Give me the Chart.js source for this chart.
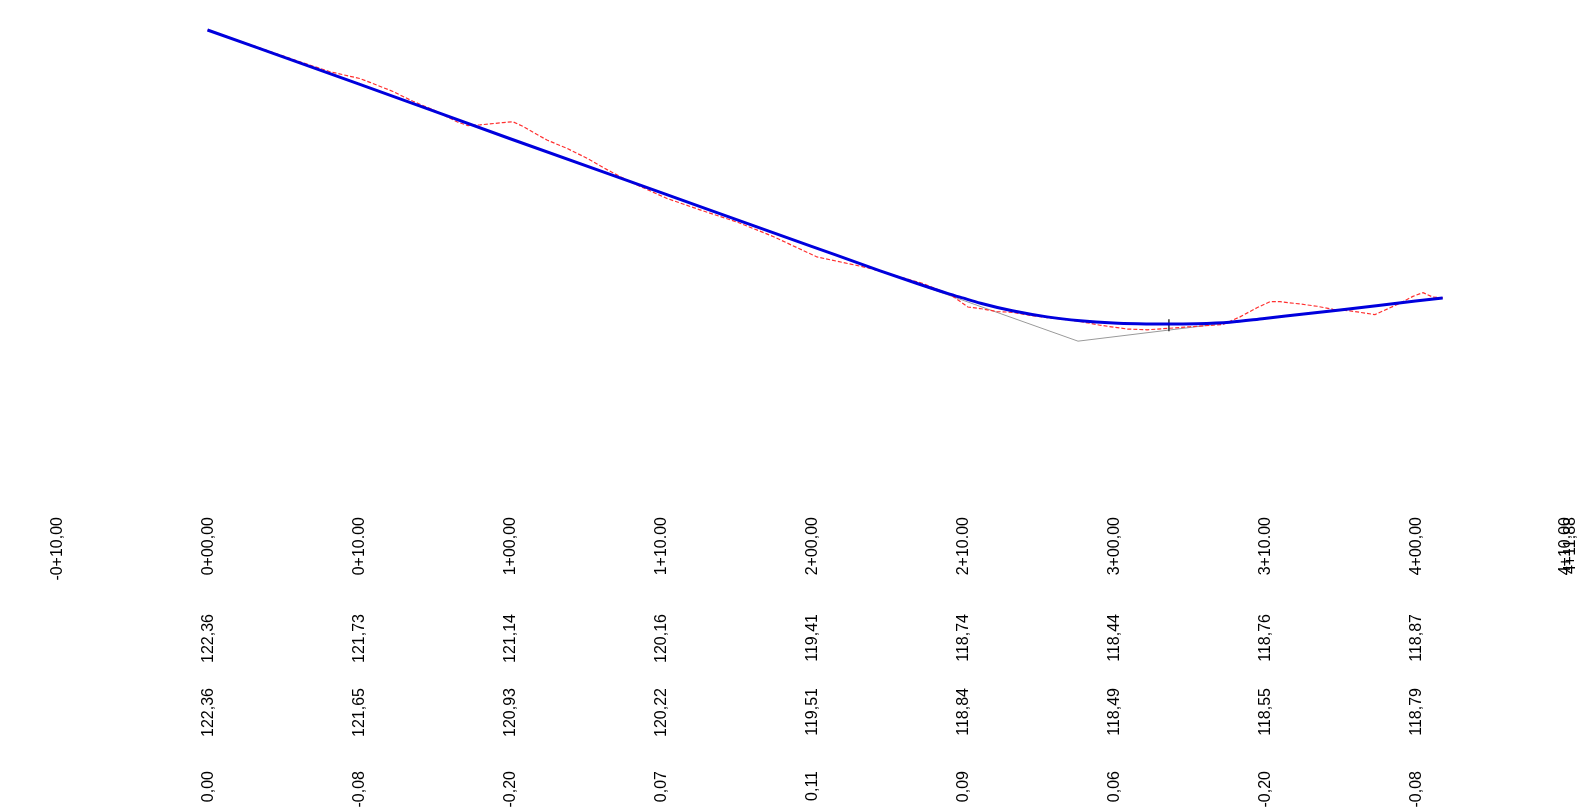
<!DOCTYPE html>
<html>
<head>
<meta charset="utf-8">
<script src="https://cdn.jsdelivr.net/npm/chart.js@4/dist/chart.umd.min.js"></script>
<style>
  html, body { margin: 0; padding: 0; background: #fff; }
  canvas { display: block; }
</style>
</head>
<body>
<canvas id="c" width="1591" height="810"></canvas>
<script>
// ---- data ----
const stationPos = [-10, 0, 10, 20, 30, 40, 50, 60, 70, 80, 90, 90];
const stationLabels = ['-0+10,00', '0+00,00', '0+10.00', '1+00,00', '1+10.00', '2+00,00', '2+10.00', '3+00,00', '3+10.00', '4+00,00', '4+10,00', '4+11,88'];
const stationShift = [0, 0, 0, 0, 0, 0, 0, 0, 0, 0, -2.5, 2.5];

const valuePos = [0, 10, 20, 30, 40, 50, 60, 70, 80];
const groundLabels = ['122,36', '121,73', '121,14', '120,16', '119,41', '118,74', '118,44', '118,76', '118,87'];
const designLabels = ['122,36', '121,65', '120,93', '120,22', '119,51', '118,84', '118,49', '118,55', '118,79'];
const diffLabels = ['0,00', '-0,08', '-0,20', '0,07', '0,11', '0,09', '0,06', '-0,20', '-0,08'];

const groundX = [0, 6.13, 8.11, 10.1, 10.76, 12.28, 13.61, 14.93, 16.52, 17.25, 18.05, 19.57, 20.23, 20.89, 22.48, 23.81, 25.13, 26.46, 27.98, 30.43, 32.62, 35.07, 37.45, 40.36, 43.87, 45.4, 47.38, 48.51, 49.37, 50.36, 51.16, 52.28, 53.34, 54.47, 55.6, 56.66, 57.78, 59.11, 60.9, 62.22, 63.74, 65.07, 67.25, 68.38, 69.5, 70.36, 71.03, 72.35, 73.48, 74.54, 75.66, 77.32, 78.97, 79.83, 80.5, 81.16, 81.82];
const groundY = [122.36, 121.94, 121.81, 121.72, 121.67, 121.55, 121.42, 121.31, 121.15, 121.10, 121.11, 121.14, 121.15, 121.09, 120.91, 120.80, 120.67, 120.52, 120.36, 120.14, 119.99, 119.83, 119.64, 119.37, 119.22, 119.13, 119.02, 118.93, 118.85, 118.71, 118.69, 118.65, 118.64, 118.60, 118.57, 118.55, 118.52, 118.47, 118.42, 118.41, 118.43, 118.45, 118.48, 118.58, 118.70, 118.78, 118.78, 118.75, 118.72, 118.68, 118.66, 118.61, 118.76, 118.85, 118.90, 118.84, 118.83];

const designX = [0, 10, 20, 30, 40, 44.5, 47, 49, 50, 51.2, 53.3, 55.6, 57.8, 60, 61.6, 63.6, 65.5, 67.7, 70, 75, 80, 81.8];
const designY = [122.36, 121.65, 120.93, 120.22, 119.51, 119.19, 119.02, 118.89, 118.83, 118.76, 118.66, 118.58, 118.53, 118.50, 118.49, 118.485, 118.49, 118.51, 118.56, 118.67, 118.79, 118.83];

const tangentX = [44.5, 57.65, 70];
const tangentY = [119.19, 118.26, 118.56];

const markX = [63.67];
const markY = [118.47];

// ---- build ----
const zip = (xs, ys) => xs.map((x, i) => ({ x: x, y: ys[i] }));

const labelPlugin = {
  id: 'bandLabels',
  afterDraw(chart) {
    const ctx = chart.ctx;
    const xs = chart.scales.x;
    ctx.save();
    ctx.font = '16px "Liberation Sans", Arial, sans-serif';
    ctx.fillStyle = '#000';
    ctx.textAlign = 'right';
    ctx.textBaseline = 'middle';
    const put = (txt, d, top, shift) => {
      ctx.save();
      ctx.translate(xs.getPixelForValue(d) + 1.5 + (shift || 0), top);
      ctx.rotate(-Math.PI / 2);
      ctx.fillText(txt, 0, 0);
      ctx.restore();
    };
    stationLabels.forEach((t, i) => put(t, stationPos[i], 517, stationShift[i]));
    groundLabels.forEach((t, i) => put(t, valuePos[i], 614));
    designLabels.forEach((t, i) => put(t, valuePos[i], 688));
    diffLabels.forEach((t, i) => put(t, valuePos[i], 771));
    ctx.restore();
  }
};

new Chart(document.getElementById('c'), {
  type: 'scatter',
  data: {
    datasets: [
      {
        label: 'tangent',
        data: zip(tangentX, tangentY),
        showLine: true,
        borderColor: '#9a9a9a',
        borderWidth: 1,
        pointRadius: 0,
        order: 4
      },
      {
        label: 'ground',
        data: zip(groundX, groundY),
        showLine: true,
        borderColor: '#ff3030',
        borderWidth: 1.2,
        borderDash: [4, 2],
        pointRadius: 0,
        tension: 0,
        order: 3
      },
      {
        label: 'mark',
        data: zip(markX, markY),
        showLine: false,
        pointStyle: 'line',
        rotation: 90,
        pointRadius: 6,
        borderColor: '#333',
        borderWidth: 1.5,
        backgroundColor: '#333',
        order: 2
      },
      {
        label: 'design',
        data: zip(designX, designY),
        showLine: true,
        borderColor: '#0000dd',
        borderWidth: 3,
        pointRadius: 0,
        tension: 0.3,
        cubicInterpolationMode: 'monotone',
        order: 1
      }
    ]
  },
  options: {
    responsive: false,
    animation: false,
    layout: { padding: 0, autoPadding: false },
    plugins: { legend: { display: false }, tooltip: { enabled: false } },
    scales: {
      x: { type: 'linear', display: false, min: -13.742, max: 91.623 },
      y: { type: 'linear', display: false, min: 112.083, max: 122.755 }
    }
  },
  plugins: [labelPlugin]
});
</script>
</body>
</html>
